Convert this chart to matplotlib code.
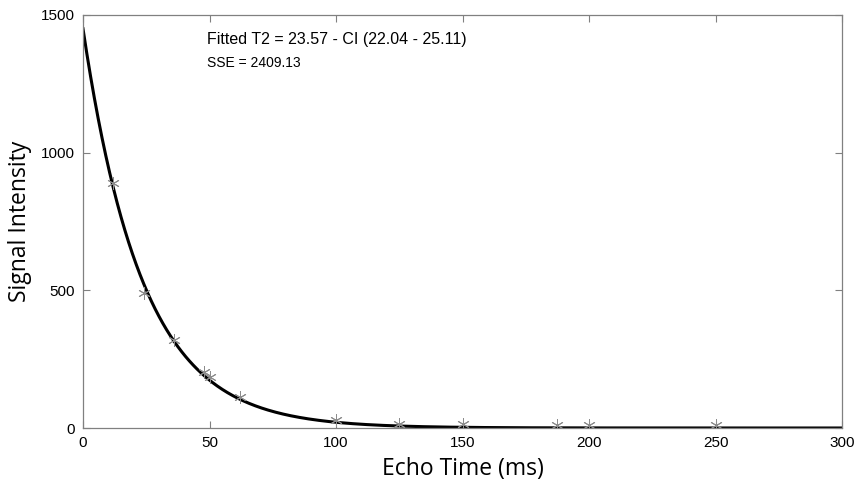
import matplotlib.pyplot as plt
import numpy as np

# Measured echoes
echo_time = [12, 24, 36, 48, 50, 62, 100, 125, 150, 187.5, 200, 250]
signal = [890, 490, 318, 205, 185, 112, 30, 15, 14, 12, 12, 12]

# Fit parameters shown on the chart
s0 = 1450
t2 = 23.57

plt.rcParams['font.family'] = ['Liberation Sans', 'DejaVu Sans']

fig = plt.figure(figsize=(8.59, 4.88), dpi=100)
ax = fig.add_axes([83 / 859, 60 / 488, 759 / 859, 413 / 488])

t = np.linspace(0, 300, 600)
ax.plot(t, s0 * np.exp(-t / t2), color='black', lw=2.2, zorder=2)
ax.plot(echo_time, signal, ls='none', marker=(6, 2, 0), ms=9, mew=0.7,
        color='#8c8c8c', zorder=3)

ax.set_xlim(0, 300)
ax.set_ylim(0, 1500)
ax.set_xticks([0, 50, 100, 150, 200, 250, 300])
ax.set_yticks([0, 500, 1000, 1500])
ax.tick_params(direction='in', top=True, right=True, length=5, width=0.8,
               color='#808080', labelsize=11, pad=6)
for s in ax.spines.values():
    s.set_color('#808080')
    s.set_linewidth(0.9)

ax.text(49, 1395, 'Fitted T2 = 23.57 - CI (22.04 - 25.11)', fontsize=11.5)
ax.text(49, 1310, 'SSE = 2409.13', fontsize=10)

ax.set_xlabel('Echo Time (ms)', family=['Open Sans', 'DejaVu Sans'],
              fontsize=16.5, labelpad=5)
ax.set_ylabel('Signal Intensity', family=['Open Sans', 'DejaVu Sans'],
              fontsize=16.5, labelpad=6)

fig.savefig('out.png', dpi=100)
